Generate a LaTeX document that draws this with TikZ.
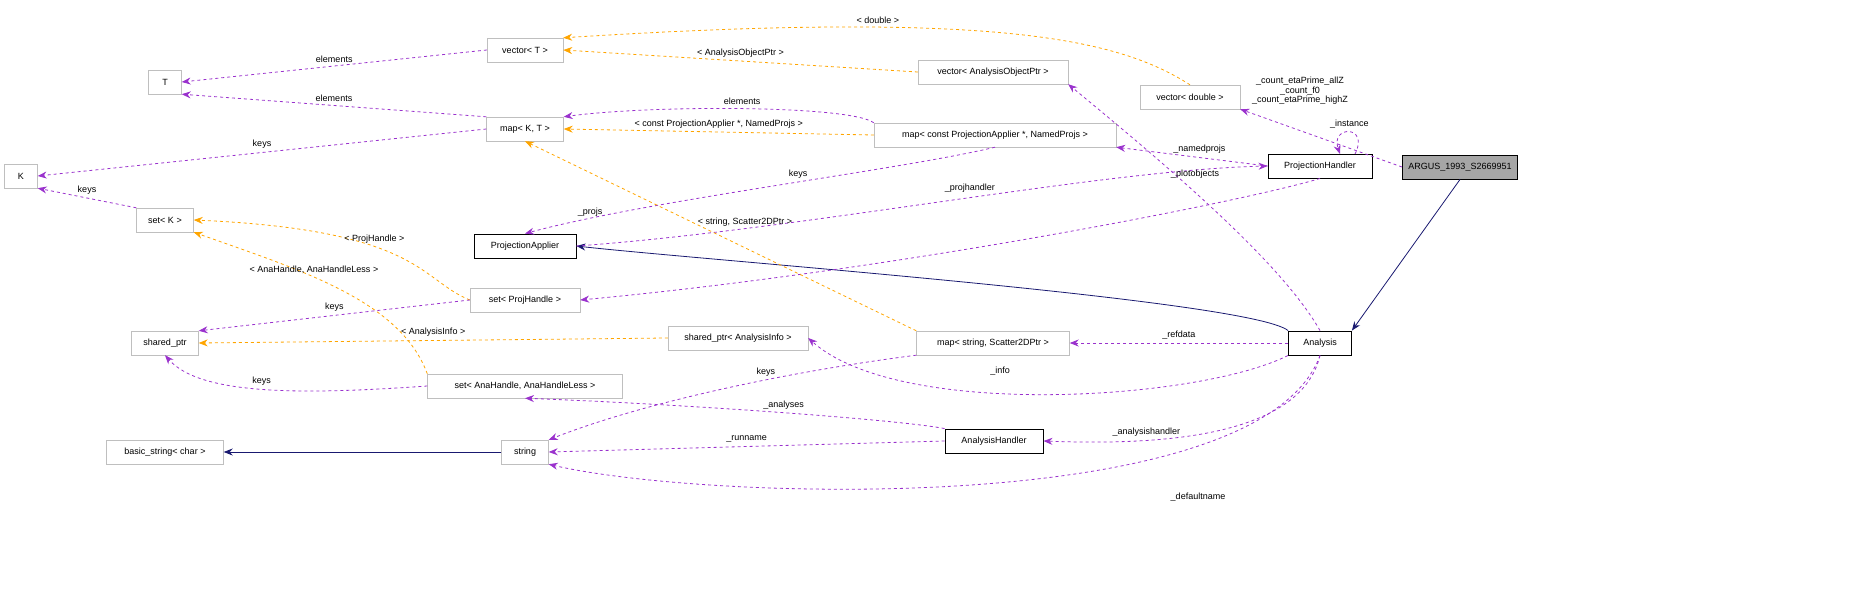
\documentclass[tikz,border=0pt]{standalone}
\usepackage{fontspec}
\setmainfont{Liberation Sans}
\usetikzlibrary{arrows.meta}
\definecolor{pur}{HTML}{9A32CD}
\definecolor{org}{HTML}{FFA500}
\definecolor{nav}{HTML}{191970}
\definecolor{gb}{HTML}{BFBFBF}
\begin{document}
\begin{tikzpicture}[x=1pt,y=-1pt,
  font=\fontsize{9}{10}\selectfont,
  box/.style={draw=gb,fill=white,minimum height=24pt,inner xsep=6pt,inner ysep=2pt},
  cls/.style={draw=black,fill=white,minimum height=24pt,inner xsep=6pt,inner ysep=2pt,line width=0.9pt},
  mem/.style={pur,dashed,line width=0.8pt,-{Stealth[length=9pt,width=7pt]}},
  tpl/.style={org,dashed,line width=0.8pt,-{Stealth[length=9pt,width=7pt]}},
  inh/.style={nav,line width=0.8pt,-{Stealth[length=9pt,width=7pt]}},
  lab/.style={black,font=\fontsize{9}{10}\selectfont,align=center}]
\node[cls,fill=gray!70,minimum width=94pt] (argus) at (1460,167) {ARGUS\_1993\_S2669951};
\node[cls,minimum width=63pt] (ana) at (1320,343) {Analysis};
\node[cls,minimum width=104pt] (ph) at (1320,166) {ProjectionHandler};
\node[box,minimum width=100pt] (vd) at (1190,97) {vector< double >};
\node[box,minimum width=150pt] (vaop) at (993,72) {vector< AnalysisObjectPtr >};
\node[box,minimum width=76pt] (vt) at (525,50) {vector< T >};
\node[box,minimum width=33pt] (T) at (165,82) {T};
\node[box,minimum width=77pt] (mkt) at (525,129) {map< K, T >};
\node[box,minimum width=242pt] (mpa) at (995,135) {map< const ProjectionApplier *, NamedProjs >};
\node[box,minimum width=33pt] (K) at (21,176) {K};
\node[box,minimum width=57pt] (sk) at (165,220) {set< K >};
\node[cls,minimum width=102pt] (pa) at (525,246) {ProjectionApplier};
\node[box,minimum width=110pt] (sph) at (525,300) {set< ProjHandle >};
\node[box,minimum width=67pt] (sp) at (165,343) {shared\_ptr};
\node[box,minimum width=140pt] (spai) at (738,338) {shared\_ptr< AnalysisInfo >};
\node[box,minimum width=153pt] (ms2d) at (993,343) {map< string, Scatter2DPtr >};
\node[box,minimum width=195pt] (sah) at (525,386) {set< AnaHandle, AnaHandleLess >};
\node[cls,minimum width=98pt] (ah) at (994,441) {AnalysisHandler};
\node[box,minimum width=117pt] (bs) at (165,452) {basic\_string< char >};
\node[box,minimum width=47pt] (str) at (525,452) {string};

% inheritance
\draw[inh] (argus.south) -- (ana.north east);
\draw[inh] (ana.north west) .. controls (1250,300) and (700,260) .. (pa.east);
\draw[inh] (str.west) -- (bs.east);

% argus members
\draw[mem] (argus.west) -- (vd.south east);
\node[lab,font=\fontsize{9}{9.5}\selectfont] (argl) at (1300,91) {\_count\_etaPrime\_allZ\\\_count\_f0\\\_count\_etaPrime\_highZ};
% projection handler
\coordinate (lp1) at (1355,154);
\coordinate (lp2) at (1340,154);
\draw[mem] (lp1) .. controls (1370,125) and (1330,125) .. node[lab,above]{\_instance} (lp2);
\draw[mem] (ph.west) -- node[lab,above,pos=0.45]{\_namedprojs} (mpa.south east);
\draw[mem] (pa.east) .. controls (800,230) and (1100,170) .. node[lab,above,pos=0.55,xshift=-10pt]{\_projhandler} (ph.west);
\draw[mem] (ph.south) .. controls (1250,200) and (900,270) .. (sph.east);
\node[lab] at (590,212) {\_projs};
\draw[mem] (mpa.south) .. controls (900,170) and (650,200) .. node[lab,above,pos=0.45]{keys} (pa.north);
\draw[tpl] (mpa.west) -- node[lab,above]{< const ProjectionApplier *, NamedProjs >} (mkt.east);
\draw[mem] (mpa.north west) .. controls (850,105) and (650,105) .. node[lab,above]{elements} (mkt.north east);
% vectors
\draw[tpl] (vaop.west) -- node[lab,above]{< AnalysisObjectPtr >} (vt.east);
\draw[tpl] (vd.north) .. controls (1120,40) and (1000,10) .. node[lab,above,pos=0.7]{< double >} (vt.north east);
\draw[mem] (vt.west) -- node[lab,above]{elements} (T.east);
\draw[mem] (mkt.north west) -- node[lab,above]{elements} (T.south east);
\draw[mem] (mkt.west) -- node[lab,above]{keys} (K.east);
\draw[mem] (sk.north west) -- node[lab,above]{keys} (K.south east);
% sets
\draw[tpl] (sph.west) .. controls (420,280) and (420,230) .. node[lab,above,pos=0.6]{< ProjHandle >} (sk.east);
\draw[tpl] (sah.north west) .. controls (400,300) and (300,270) .. node[lab,above,pos=0.6]{< AnaHandle, AnaHandleLess >} (sk.south east);
\draw[mem] (sph.west) -- node[lab,above]{keys} (sp.north east);
\draw[tpl] (spai.west) -- node[lab,above]{< AnalysisInfo >} (sp.east);
\draw[mem] (sah.west) .. controls (300,395) and (200,395) .. node[lab,above,pos=0.5]{keys} (sp.south);
% map string
\draw[tpl] (ms2d.north west) -- (mkt.south);
\node[lab] at (745,222) {< string, Scatter2DPtr >};
\draw[mem] (ms2d.south west) .. controls (800,370) and (650,400) .. node[lab,above,pos=0.4]{keys} (str.north east);
% analysis members
\draw[mem] (ana.west) -- node[lab,above]{\_refdata} (ms2d.east);
\draw[mem] (ana.south west) .. controls (1200,400) and (900,420) .. (spai.east);
\node[lab] at (1000,371) {\_info};
\draw[mem] (ana.north) .. controls (1280,260) and (1160,160) .. (vaop.south east);
\node[lab] at (1195,174) {\_plotobjects};
\draw[mem] (ana.south) .. controls (1300,440) and (1150,445) .. node[lab,above,pos=0.7]{\_analysishandler} (ah.east);
\draw[mem] (ana.south) .. controls (1260,520) and (700,500) .. (str.south east);
\node[lab] at (1198,497) {\_defaultname};
\draw[mem] (ah.north west) .. controls (900,420) and (700,405) .. node[lab,above,pos=0.5]{\_analyses} (sah.south);
\draw[mem] (ah.west) -- node[lab,above]{\_runname} (str.east);
\pgfresetboundingbox
\path[use as bounding box] (0,0) rectangle (1872,589);
\end{tikzpicture}
\end{document}
